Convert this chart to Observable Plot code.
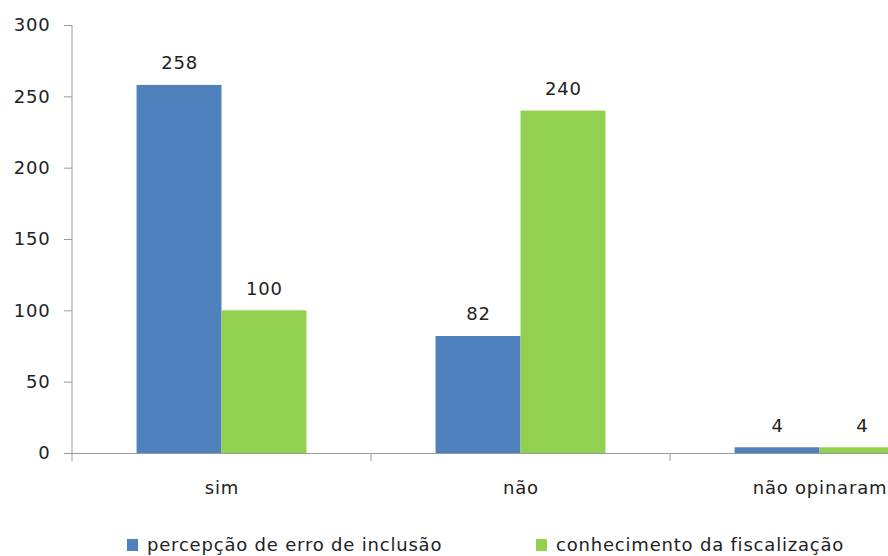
<!DOCTYPE html>
<html>
<head>
<meta charset="utf-8">
<script src="https://cdn.jsdelivr.net/npm/d3@7"></script>
<script src="https://cdn.jsdelivr.net/npm/@observablehq/plot@0.6"></script>
<style>
  html, body { margin: 0; padding: 0; background: #fff; overflow: hidden; }
  #chart { position: relative; width: 888px; }
  #chart svg text { letter-spacing: 0.8px; }
  #legend { position: relative; width: 888px; height: 36px; font-family: "DejaVu Sans", sans-serif; font-size: 18px; letter-spacing: 0.8px; color: #222; }
  .item { position: absolute; top: 14px; display: flex; align-items: center; white-space: nowrap; }
  .swatch { width: 11px; height: 12px; margin-right: 9px; }
</style>
</head>
<body>
<div id="chart"></div>
<div id="legend"></div>
<script>
// Respostas por categoria
const categorias = ["sim", "não", "não opinaram"];
const series = ["percepção de erro de inclusão", "conhecimento da fiscalização"];
const percepcao = [258, 82, 4];
const conhecimento = [100, 240, 4];
const cores = ["#4F81BD", "#92D050"];
const yTicks = [0, 50, 100, 150, 200, 250, 300];

const dados = categorias.flatMap((c, i) => [
  {categoria: c, serie: series[0], valor: percepcao[i]},
  {categoria: c, serie: series[1], valor: conhecimento[i]}
]);

const eixo = "#9a9a9a";

const plot = Plot.plot({
  width: 888,
  height: 520,
  marginLeft: 72,
  marginRight: -81,
  marginTop: 25,
  marginBottom: 67,
  style: {fontFamily: "DejaVu Sans, sans-serif", fontSize: "18px", color: "#222", overflow: "hidden", background: "#fff"},
  fx: {domain: categorias, padding: 0, label: null},
  x: {domain: series, paddingInner: 0, paddingOuter: 0.76, axis: null, round: false},
  y: {domain: [0, 300], label: null},
  color: {domain: series, range: cores},
  marks: [
    Plot.barY(dados, {fx: "categoria", x: "serie", y: "valor", fill: "serie"}),
    Plot.ruleY([0], {stroke: eixo, strokeWidth: 1}),
    Plot.text(dados, {fx: "categoria", x: "serie", y: "valor", text: d => String(d.valor), dy: -22, fill: "#222"}),
    Plot.axisY({ticks: yTicks, tickSize: 8, tickPadding: 14, stroke: eixo, fill: "#222", label: null}),
    Plot.axisFx({anchor: "bottom", tickSize: 0, tickPadding: 28, label: null, fill: "#222"})
  ]
});

// Linha do eixo vertical e marcas de divisão entre categorias
const fx = plot.scale("fx");
const y = plot.scale("y");
const svg = d3.select(plot);
const x0 = fx.apply(categorias[0]);
svg.append("line")
  .attr("x1", x0).attr("x2", x0)
  .attr("y1", y.apply(300)).attr("y2", y.apply(0))
  .attr("stroke", eixo);
svg.append("g")
  .selectAll("line")
  .data(categorias)
  .join("line")
  .attr("x1", d => fx.apply(d)).attr("x2", d => fx.apply(d))
  .attr("y1", y.apply(0)).attr("y2", y.apply(0) + 8)
  .attr("stroke", eixo);

document.getElementById("chart").appendChild(plot);

// Legenda
const legendaPos = [127, 536];
const legenda = d3.select("#legend");
series.forEach((s, i) => {
  const item = legenda.append("div").attr("class", "item").style("left", legendaPos[i] + "px");
  item.append("div").attr("class", "swatch").style("background", cores[i]);
  item.append("span").text(s);
});
</script>
</body>
</html>
